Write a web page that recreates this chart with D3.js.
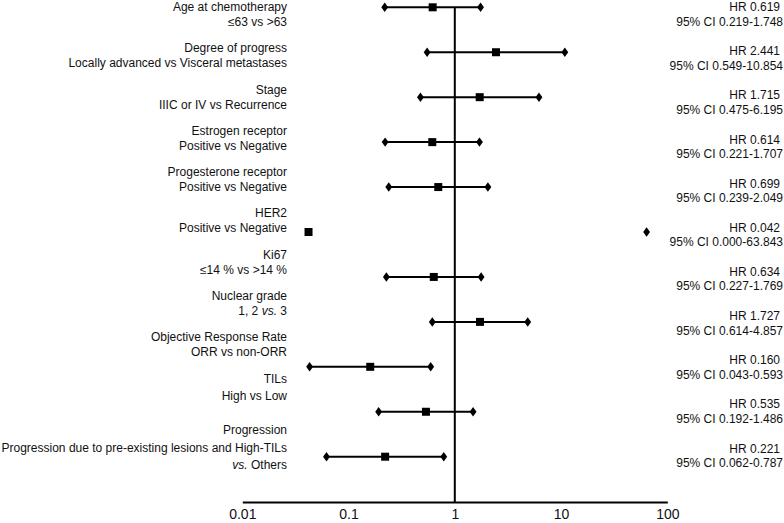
<!DOCTYPE html>
<html>
<head>
<meta charset="utf-8">
<script src="https://cdn.jsdelivr.net/npm/d3@7"></script>
<style>
	body { margin: 0; background: #fff; }
	svg { display: block; font-family: "Liberation Sans", Arial, sans-serif; }
	.label, .stat { font-size: 12px; fill: #111; }
	.axis text { font-size: 14px; fill: #111; font-family: "Liberation Sans", Arial, sans-serif; }
	.axis path { stroke: #000; stroke-width: 2; }
</style>
</head>
<body>
<svg id="chart" width="784" height="523"></svg>
<script>
'use strict';

// row labels, "_vs._" marks italic text
const titles = [
	'Age at chemotherapy',
	'Degree of progress',
	'Stage',
	'Estrogen receptor',
	'Progesterone receptor',
	'HER2',
	'Ki67',
	'Nuclear grade',
	'Objective Response Rate',
	'TILs',
	'Progression'
];
const comparisons = [
	['≤63 vs >63'],
	['Locally advanced vs Visceral metastases'],
	['IIIC or IV vs Recurrence'],
	['Positive vs Negative'],
	['Positive vs Negative'],
	['Positive vs Negative'],
	['≤14 % vs >14 %'],
	['1, 2 _vs._ 3'],
	['ORR vs non-ORR'],
	['High vs Low'],
	['Progression due to pre-existing lesions and High-TILs', '_vs._ Others']
];

// hazard ratios with 95% CI
const hr = [0.619, 2.441, 1.715, 0.614, 0.699, 0.042, 0.634, 1.727, 0.160, 0.535, 0.221];
const ciLow = [0.219, 0.549, 0.475, 0.221, 0.239, 0.000, 0.227, 0.614, 0.043, 0.192, 0.062];
const ciHigh = [1.748, 10.854, 6.195, 1.707, 2.049, 63.843, 1.769, 4.857, 0.593, 1.486, 0.787];

const tickValues = [0.01, 0.1, 1, 10, 100];

const rows = d3.range(hr.length);
const svg = d3.select('#chart');

const axisY = 502;

const x = d3.scaleLog()
	.domain([0.01, 100])
	.range([242.3, 667.3]);

// marker rows
const y = d3.scalePoint()
	.domain(rows)
	.range([7.3, 456.7]);

// stats text on the right drifts a little from the markers
const statY = d3.scaleLinear()
	.domain([0, rows.length - 1])
	.range([6.7, 448.3]);

// left labels are packed tighter, the three-line label sits lower
const labelY = d3.scaleLinear()
	.domain([0, 9, 10])
	.range([6.7, 378.3, 430]);
const lineGap = d3.scaleLinear()
	.domain([0, 8, 9, 10])
	.range([15, 15, 17.7, 17.5]);

/**
* write a line into a text element, "_..._" parts become italic
*/
const writeLine = function(textSel, str) {
	str.split('_').forEach(function(part, i) {
		if (!part) return;
		textSel.append('tspan')
			.attr('font-style', i % 2 ? 'italic' : null)
			.text(part);
	});
};

// left labels
rows.forEach(function(i) {
	const lines = [titles[i]].concat(comparisons[i]);
	const g = svg.append('g').attr('class', 'label-group');
	lines.forEach(function(line, j) {
		const t = g.append('text')
			.attr('class', 'label')
			.attr('x', 287)
			.attr('y', labelY(i) + j * lineGap(i))
			.attr('dy', '0.36em')
			.attr('text-anchor', 'end')
			.attr('xml:space', 'preserve');
		writeLine(t, line);
	});
});

// stats on the right
const fmt = d3.format('.3f');
const stats = svg.append('g').selectAll('.stat-group')
	.data(rows)
	.enter()
	.append('g')
	.attr('class', 'stat-group');

stats.append('text')
	.attr('class', 'stat')
	.attr('x', 780)
	.attr('y', function(i) { return statY(i); })
	.attr('dy', '0.36em')
	.attr('text-anchor', 'end')
	.text(function(i) { return 'HR ' + fmt(hr[i]); });

stats.append('text')
	.attr('class', 'stat')
	.attr('x', 783)
	.attr('y', function(i) { return statY(i) + 14.5; })
	.attr('dy', '0.36em')
	.attr('text-anchor', 'end')
	.text(function(i) { return '95% CI ' + fmt(ciLow[i]) + '-' + fmt(ciHigh[i]); });

// axis
svg.append('g')
	.attr('class', 'axis')
	.attr('transform', 'translate(0,' + axisY + ')')
	.call(d3.axisBottom(x)
		.tickValues(tickValues)
		.tickFormat(function(d) { return String(d); })
		.tickSize(0)
		.tickPadding(7))
	.call(function(g) { g.selectAll('.tick line').remove(); });

// reference line at HR = 1
svg.append('line')
	.attr('x1', x(1))
	.attr('x2', x(1))
	.attr('y1', y(0))
	.attr('y2', axisY)
	.attr('stroke', '#000')
	.attr('stroke-width', 2);

// CI lines (skipped when the lower bound is off the log scale)
const ciRows = rows.filter(function(i) { return ciLow[i] > 0; });

svg.append('g').selectAll('.ci')
	.data(ciRows)
	.enter()
	.append('line')
	.attr('class', 'ci')
	.attr('x1', function(i) { return x(ciLow[i]); })
	.attr('x2', function(i) { return x(ciHigh[i]); })
	.attr('y1', function(i) { return y(i); })
	.attr('y2', function(i) { return y(i); })
	.attr('stroke', '#000')
	.attr('stroke-width', 2);

// diamond ends
const diamond = d3.symbol().type(d3.symbolDiamond).size(26);
const ends = [];
rows.forEach(function(i) {
	if (ciLow[i] > 0) ends.push({ row: i, v: ciLow[i] });
	ends.push({ row: i, v: ciHigh[i] });
});

svg.append('g').selectAll('.end')
	.data(ends)
	.enter()
	.append('path')
	.attr('class', 'end')
	.attr('d', diamond)
	.attr('transform', function(d) {
		return 'translate(' + x(d.v) + ',' + y(d.row) + ') scale(1.25,1)';
	})
	.attr('fill', '#000');

// point estimates
const sq = 8;
svg.append('g').selectAll('.hr')
	.data(rows)
	.enter()
	.append('rect')
	.attr('class', 'hr')
	.attr('x', function(i) { return x(hr[i]) - sq / 2; })
	.attr('y', function(i) { return y(i) - sq / 2; })
	.attr('width', sq)
	.attr('height', sq)
	.attr('fill', '#000');
</script>
</body>
</html>
